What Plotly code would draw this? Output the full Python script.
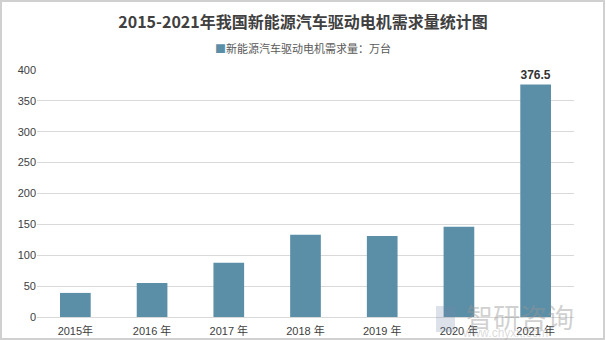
import plotly.graph_objects as go

# Annual demand for NEV drive motors (10k units)
years = ["2015年", "2016 年", "2017 年", "2018 年", "2019 年", "2020 年", "2021 年"]
demand = [39, 55, 88, 133, 131, 146, 376.5]
series_name = "新能源汽车驱动电机需求量：万台"
y_ticks = [0, 50, 100, 150, 200, 250, 300, 350, 400]

bar_color = "#5b8ea7"
cjk = "Liberation Sans, Noto Sans CJK SC, sans-serif"

# only the last bar carries a value label
labels = ["" for _ in demand[:-1]] + [f"<b>{demand[-1]}</b>"]

fig = go.Figure()
fig.add_trace(go.Bar(
    x=years,
    y=demand,
    name=series_name,
    marker=dict(color=bar_color, line=dict(width=0)),
    text=labels,
    textposition="outside",
    textfont=dict(family=cjk, size=12, color="#333333"),
    cliponaxis=False,
    showlegend=False,
))

PW, PH = 537, 247  # plot area size in px


def px_x(x):
    return (x - 37) / PW


def px_y(y):
    return (317 - y) / PH


fig.update_layout(
    width=606,
    height=340,
    margin=dict(l=37, r=32, t=70, b=23, autoexpand=False),
    paper_bgcolor="white",
    plot_bgcolor="white",
    bargap=0.6,
    title=dict(
        text="<b>2015-2021年我国新能源汽车驱动电机需求量统计图</b>",
        x=0.5, xanchor="center",
        y=1 - 22 / 340, yanchor="middle",
        font=dict(family="Noto Sans CJK SC, sans-serif", size=16, color="#404040"),
    ),
    showlegend=False,
    xaxis=dict(
        automargin=False,
        showgrid=False,
        showline=False,
        ticks="",
        ticklabelstandoff=6,
        tickfont=dict(family=cjk, size=11, color="#404040"),
    ),
    yaxis=dict(
        automargin=False,
        range=[0, 400],
        tickvals=y_ticks,
        showgrid=True,
        gridcolor="#d9d9d9",
        gridwidth=1,
        zeroline=True,
        zerolinecolor="#d9d9d9",
        zerolinewidth=1,
        showline=False,
        ticks="",
        tickfont=dict(family="Liberation Sans, sans-serif", size=11, color="#404040"),
    ),
    shapes=[
        # light frame round the whole chart
        dict(type="rect", xref="paper", yref="paper",
             x0=px_x(1), x1=px_x(604), y0=px_y(339), y1=px_y(1),
             line=dict(color="#d0d0d0", width=2), fillcolor="rgba(0,0,0,0)"),
        # watermark logo block
        dict(type="rect", xref="paper", yref="paper",
             x0=px_x(436), x1=px_x(455), y0=px_y(332), y1=px_y(306),
             line=dict(width=0), fillcolor="rgba(120,140,170,0.25)"),
    ],
    annotations=[
        # legend: coloured square + series name
        dict(text=f"<span style='color:{bar_color}'>■</span>{series_name}",
             xref="paper", yref="paper",
             x=px_x(303), y=px_y(48),
             xanchor="center", yanchor="middle", showarrow=False,
             font=dict(family="Noto Sans CJK SC, sans-serif", size=11, color="#595959")),
        dict(text="智研咨询", xref="paper", yref="paper",
             x=px_x(520), y=px_y(316),
             xanchor="center", yanchor="middle", showarrow=False,
             font=dict(family="Noto Sans CJK SC, sans-serif", size=27,
                       color="rgba(150,150,150,0.45)")),
        dict(text="www.chyxx.com", xref="paper", yref="paper",
             x=px_x(505), y=px_y(333),
             xanchor="center", yanchor="middle", showarrow=False,
             font=dict(family="Liberation Sans, sans-serif", size=12,
                       color="rgba(150,150,150,0.35)")),
    ],
)

fig.write_html("out.html")
